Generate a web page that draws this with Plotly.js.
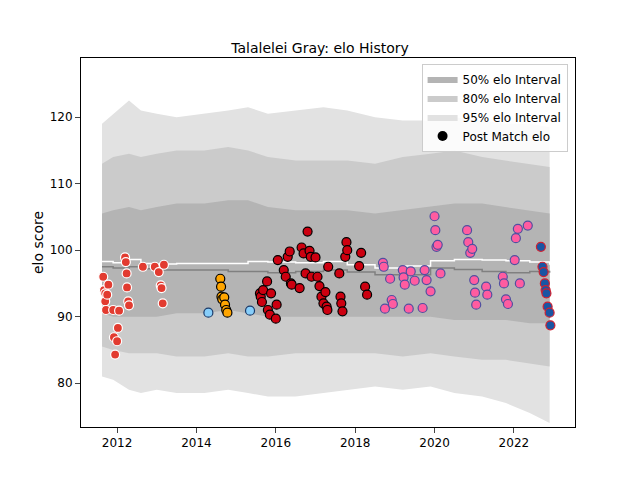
<!DOCTYPE html>
<html><head><meta charset="utf-8">
<script src="https://cdn.plot.ly/plotly-3.0.1.min.js"></script>
</head><body style="margin:0">
<div id="plot" style="width:640px;height:480px"></div>
<script>
// band dates (decimal years) and edges
const bandYears = [2011.62, 2011.9, 2012.3, 2012.6, 2013.0, 2013.5, 2014.2, 2014.8, 2015.3, 2015.8, 2016.5, 2017.2, 2017.8, 2018.5, 2019.2, 2019.9, 2020.5, 2021.2, 2021.8, 2022.4, 2022.9];
const up95 = [119, 120.5, 122.5, 121, 120.5, 120, 120.5, 121, 121.5, 120.5, 121, 121.5, 121, 120, 119.5, 119.5, 120, 119.5, 119, 119, 118.5];
const lo95 = [81, 80.5, 79, 78.5, 79, 78.5, 78.5, 79, 78.5, 78, 78, 78.5, 79, 79.5, 79, 79.5, 78.5, 78, 77, 75.5, 74];
const up80 = [113, 114, 114.5, 114, 114.5, 115, 115, 115.5, 115, 114, 113.5, 113.5, 113.5, 113, 114, 114.5, 115, 114, 113.5, 113, 112.5];
const lo80 = [85.5, 85, 84.5, 84.5, 84.5, 84, 84, 84.5, 84, 84, 84.5, 84.5, 84.5, 84.5, 84, 84.5, 84, 83.5, 83.5, 83, 82.5];
const up50 = [105.5, 106, 106.5, 106, 106.5, 107, 107, 107.5, 107.5, 106.5, 106, 106, 106, 105.5, 106, 106.5, 107, 107, 106.5, 106, 105.5];
const lo50 = [90.5, 90, 90, 90, 90, 90.5, 90.5, 91, 90.5, 90, 90, 90, 90, 90, 90, 90, 89.5, 89.5, 89.5, 89, 89];
const median = [97.5, 97.3, 97.5, 97.2, 97, 97, 97, 96.8, 96.8, 96.6, 96.8, 97, 96.7, 96.3, 96.3, 97.3, 97.1, 96.8, 96.6, 96.8, 96.6];
const mean = [98.3, 98.1, 98.6, 98, 97.9, 98, 98, 98, 98.3, 98.2, 98.1, 98.3, 97.8, 97.3, 97.6, 98.4, 98.6, 98.5, 98.4, 98.2, 97.8];

// post match elo, grouped by team
const redYears = [2011.65, 2011.67, 2011.7, 2011.7, 2011.72, 2011.75, 2011.78, 2011.9, 2011.92, 2011.95, 2012.0, 2012.02, 2012.05, 2012.2, 2012.22, 2012.24, 2012.25, 2012.28, 2012.3, 2012.65, 2012.95, 2013.05, 2013.1, 2013.12, 2013.15, 2013.18];
const redElo = [96, 94, 93.5, 92.3, 91, 93.3, 94.8, 91, 86.9, 84.3, 86.3, 88.3, 90.9, 98.9, 98.2, 96.5, 94.4, 92.3, 91.7, 97.5, 97.5, 96.7, 94.7, 94.3, 92, 97.8];
const orangeYears = [2014.6, 2014.62, 2014.63, 2014.65, 2014.7, 2014.72, 2014.75, 2014.78];
const orangeElo = [95.7, 94.5, 93, 92.6, 92.9, 91.8, 91, 90.6];
const skyYears = [2014.3, 2015.35];
const skyElo = [90.6, 90.9];
const darkRedYears = [2015.6, 2015.62, 2015.65, 2015.68, 2015.78, 2015.8, 2015.85, 2015.88, 2016.0, 2016.02, 2016.05, 2016.2, 2016.25, 2016.3, 2016.35, 2016.38, 2016.4, 2016.6, 2016.65, 2016.7, 2016.75, 2016.8, 2016.85, 2016.88, 2016.9, 2017.0, 2017.05, 2017.1, 2017.15, 2017.2, 2017.25, 2017.28, 2017.3, 2017.32, 2017.6, 2017.63, 2017.65, 2017.68, 2017.75, 2017.78, 2017.8, 2018.1, 2018.15, 2018.25, 2018.3];
const darkRedElo = [93.5, 93, 92.2, 94, 95.3, 91, 90.3, 93.5, 89.7, 91.8, 98.5, 97, 96, 99, 99.8, 95, 94.8, 94.3, 100.4, 99.5, 96.5, 102.8, 99.9, 99, 96, 98.9, 96, 94.6, 93, 92, 93.7, 91.5, 91, 97.5, 96.5, 93, 92, 90.8, 99, 101.2, 100, 97.6, 99.6, 94.5, 93.3];
const pinkYears = [2018.7, 2018.72, 2018.75, 2018.88, 2018.92, 2018.95, 2019.2, 2019.22, 2019.25, 2019.35, 2019.4, 2019.5, 2019.7, 2019.75, 2019.8, 2019.9, 2020.0, 2020.02, 2020.05, 2020.08, 2020.15, 2020.82, 2020.85, 2020.9, 2020.95, 2021.0, 2021.02, 2021.05, 2021.3, 2021.33, 2021.72, 2021.75, 2021.8, 2021.85, 2022.02, 2022.05, 2022.1, 2022.15, 2022.35];
const pinkElo = [98.1, 97.5, 91.2, 95.7, 92.5, 91.9, 97, 95.9, 94.8, 91.2, 96.8, 95.4, 91.3, 97, 95.5, 93.8, 105.1, 103, 100.5, 100.8, 96.5, 103, 101.2, 99.6, 100.2, 95.5, 93.6, 91.8, 94.5, 93.3, 96, 95, 92.6, 91.9, 98.5, 101.8, 103.2, 95, 103.7];
const blueYears = [2022.68, 2022.72, 2022.75, 2022.78, 2022.8, 2022.82, 2022.85, 2022.9, 2022.92];
const blueElo = [100.5, 97.5, 96.7, 95, 94, 93.5, 91.5, 90.6, 88.7];

function band(lo, hi, color, name, rank) {
    return [
        { x: bandYears, y: lo, mode: 'lines', line: { width: 0 }, showlegend: false, hoverinfo: 'skip' },
        { x: bandYears, y: hi, mode: 'lines', line: { width: 0 }, fill: 'tonexty', fillcolor: color, name: name, legendrank: rank }
    ];
}

function pts(x, y, color, edge) {
    return { x: x, y: y, mode: 'markers', showlegend: false,
        marker: { color: color, size: 9, line: { color: edge, width: 1.2 } } };
}

const traces = [
    ...band(lo95, up95, '#e2e2e2', '95% elo Interval', 3),
    ...band(lo80, up80, '#cbcbcb', '80% elo Interval', 2),
    ...band(lo50, up50, '#b4b4b4', '50% elo Interval', 1),
    { x: bandYears, y: median, mode: 'lines', line: { color: '#808080', width: 1.5, shape: 'hv' }, showlegend: false },
    { x: bandYears, y: mean, mode: 'lines', line: { color: 'white', width: 1.5, shape: 'hv' }, showlegend: false },
    pts(redYears, redElo, '#e23b30', 'white'),
    pts(orangeYears, orangeElo, '#ffa500', 'black'),
    pts(skyYears, skyElo, '#87cefa', '#1a3a6a'),
    pts(darkRedYears, darkRedElo, '#cc0010', 'black'),
    pts(pinkYears, pinkElo, '#ff5ca0', '#5050a0'),
    pts(blueYears, blueElo, '#1a55a3', '#d02030'),
    { x: [null], y: [null], mode: 'markers', name: 'Post Match elo', legendrank: 4, marker: { color: 'black', size: 10 } }
];

const layout = {
    width: 640, height: 480,
    margin: { l: 81, r: 65, t: 58, b: 53 },
    paper_bgcolor: 'white', plot_bgcolor: 'white',
    font: { family: 'DejaVu Sans', size: 12, color: 'black' },
    title: { text: 'Talalelei Gray: elo History', x: 0.5, xanchor: 'center', y: 0.91, font: { size: 14 } },
    xaxis: { range: [2011.09, 2023.54], tickvals: [2012, 2014, 2016, 2018, 2020, 2022], ticks: 'outside',
        showgrid: false, zeroline: false, showline: true, mirror: true, linecolor: 'black', linewidth: 1 },
    yaxis: { range: [73.4, 128.9], tickvals: [80, 90, 100, 110, 120], ticks: 'outside',
        title: { text: 'elo score' },
        showgrid: false, zeroline: false, showline: true, mirror: true, linecolor: 'black', linewidth: 1 },
    legend: { x: 0.985, y: 0.985, xanchor: 'right', yanchor: 'top', traceorder: 'normal',
        bgcolor: 'rgba(255,255,255,0.85)', bordercolor: '#cccccc', borderwidth: 1, font: { size: 12 } }
};

Plotly.newPlot('plot', traces, layout, { staticPlot: true });
</script>
</body></html>
